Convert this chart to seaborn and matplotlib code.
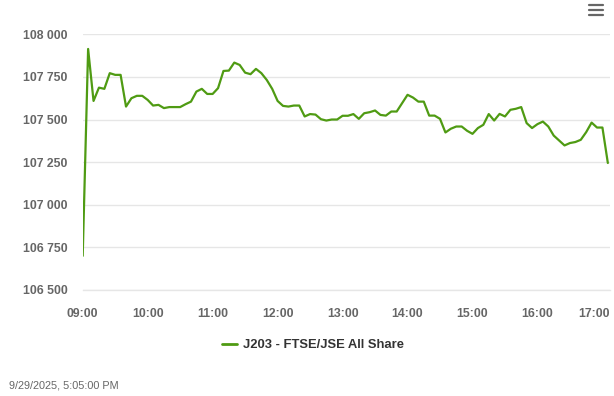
import matplotlib
matplotlib.use("Agg")
import matplotlib.pyplot as plt
import matplotlib.lines as mlines
import matplotlib.transforms as mtransforms
import seaborn as sns
import pandas as pd

# ---- data (5-minute intervals starting 09:00) ----
minutes = list(range(0, 490, 5))
values = [
    106700, 107914, 107609, 107687, 107680, 107772, 107762, 107762, 107576, 107625,
    107639, 107639, 107615, 107582, 107586, 107567, 107573, 107573, 107573, 107590,
    107605, 107664, 107680, 107650, 107650, 107684, 107785, 107787, 107834, 107820,
    107775, 107766, 107797, 107772, 107732, 107680, 107609, 107580, 107576, 107582,
    107582, 107518, 107532, 107529, 107502, 107494, 107500, 107500, 107522, 107522,
    107532, 107504, 107537, 107543, 107553, 107527, 107523, 107547, 107547, 107596,
    107645, 107629, 107605, 107605, 107523, 107523, 107504, 107424, 107446, 107459,
    107459, 107434, 107416, 107450, 107469, 107532, 107494, 107533, 107518, 107557,
    107563, 107573, 107479, 107450, 107473, 107488, 107459, 107406, 107377, 107348,
    107362, 107368, 107381, 107426, 107482, 107453, 107453, 107245,
]
x_tick_minutes = [0, 60, 120, 180, 240, 300, 360, 420, 480]
x_tick_labels = ["09:00", "10:00", "11:00", "12:00", "13:00", "14:00", "15:00", "16:00", "17:00"]
y_ticks = [106500, 106750, 107000, 107250, 107500, 107750, 108000]
series_name = "J203 - FTSE/JSE All Share"
timestamp = "9/29/2025, 5:05:00 PM"

df = pd.DataFrame({"minute": minutes[:len(values)], "value": values})

sns.set_style("white")
plt.rcParams["font.family"] = ["Liberation Sans", "DejaVu Sans"]

fig = plt.figure(figsize=(6.14, 3.96), dpi=100)
ax = fig.add_axes([0.1347, 0.2677, 0.9935 - 0.1347, 0.9134 - 0.2677])

line_color = "#4f9b13"
sns.lineplot(data=df, x="minute", y="value", ax=ax, color=line_color, linewidth=1.6,
             legend=False)

ax.set_xlim(0, 487)
ax.set_ylim(106500, 108000)
ax.set_yticks(y_ticks)
ax.set_yticklabels([f"{v:,}".replace(",", " ") for v in y_ticks])
ax.set_xticks(x_tick_minutes)
ax.set_xticklabels(x_tick_labels)
ax.set_xlabel("")
ax.set_ylabel("")

ax.grid(axis="y", color="#e6e6e6", linewidth=1)
ax.grid(axis="x", visible=False)
for s in ["top", "right", "left"]:
    ax.spines[s].set_visible(False)
ax.spines["bottom"].set_color("#e6e6e6")
ax.spines["bottom"].set_linewidth(1)

ax.tick_params(axis="y", length=0, pad=11, labelsize=8.8, labelcolor="#666666")
ax.tick_params(axis="x", length=7, width=1, color="#e6e6e6", pad=6,
               labelsize=8.8, labelcolor="#666666")
for lab in ax.get_xticklabels() + ax.get_yticklabels():
    lab.set_fontweight("bold")

# keep the last x label inside the figure
last = ax.get_xticklabels()[-1]
last.set_horizontalalignment("right")
last.set_transform(last.get_transform() +
                   mtransforms.ScaledTranslation(7 / 100, 0, fig.dpi_scale_trans))

# legend
handle = mlines.Line2D([], [], color=line_color, linewidth=2)
leg = fig.legend([handle], [series_name], loc="center",
                 bbox_to_anchor=(313 / 614, 1 - 345 / 396),
                 frameon=False, handlelength=1.1, handletextpad=0.45,
                 prop={"weight": "bold", "size": 9.4})
for t in leg.get_texts():
    t.set_color("#333333")

# timestamp
fig.text(9 / 614, 1 - 385 / 396, timestamp, fontsize=7.8, color="#666666",
         ha="left", va="center")

# menu icon
for yy in [5, 10, 15]:
    fig.add_artist(mlines.Line2D([589 / 614, 603 / 614], [1 - yy / 396, 1 - yy / 396],
                                 color="#666666", linewidth=1.6,
                                 transform=fig.transFigure))

fig.savefig("out.png", dpi=100)
